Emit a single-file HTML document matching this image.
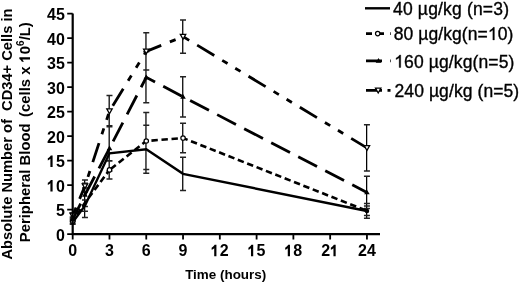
<!DOCTYPE html>
<html><head><meta charset="utf-8"><style>html,body{margin:0;padding:0;background:#fff;}svg{display:block;will-change:transform;}</style></head>
<body><svg width="520" height="284" viewBox="0 0 520 284"><path d="M72.40 220.38V224.30M84.66 200.09V211.27M109.18 145.41V161.09M145.96 125.32V173.34M182.74 157.17V190.49M366.64 203.62V218.32M72.40 218.91V223.81M84.66 187.89V217.59M109.18 160.84V178.97M145.96 112.58V169.42M182.74 123.36V152.76M366.64 206.07V215.58M72.40 216.95V221.85M84.66 183.29V206.51M109.18 125.81V170.89M145.96 51.82V102.78M182.74 76.81V116.99M366.64 176.28V208.62M72.40 213.03V217.93M84.66 180.10V192.06M109.18 95.43V126.79M145.96 32.71V69.95M182.74 19.97V53.29M366.64 124.83V170.89" stroke="#000" stroke-width="1.25" fill="none"/><path d="M69.70 220.38H75.70M69.70 224.30H75.70M81.96 200.09H87.96M81.96 211.27H87.96M106.48 161.09H112.48M143.26 125.32H149.26M143.26 173.34H149.26M180.04 157.17H186.04M180.04 190.49H186.04M363.94 203.62H369.94M363.94 218.32H369.94M69.70 218.91H75.70M69.70 223.81H75.70M81.96 187.89H87.96M81.96 217.59H87.96M106.48 160.84H112.48M106.48 178.97H112.48M143.26 112.58H149.26M143.26 169.42H149.26M180.04 123.36H186.04M180.04 152.76H186.04M363.94 206.07H369.94M363.94 215.58H369.94M69.70 216.95H75.70M69.70 221.85H75.70M81.96 183.29H87.96M81.96 206.51H87.96M106.48 125.81H112.48M106.48 170.89H112.48M143.26 51.82H149.26M143.26 102.78H149.26M180.04 76.81H186.04M180.04 116.99H186.04M363.94 176.28H369.94M363.94 208.62H369.94M69.70 213.03H75.70M69.70 217.93H75.70M81.96 180.10H87.96M81.96 192.06H87.96M106.48 95.43H112.48M106.48 126.79H112.48M143.26 32.71H149.26M143.26 69.95H149.26M180.04 19.97H186.04M180.04 53.29H186.04M363.94 124.83H369.94M363.94 170.89H369.94" stroke="#222" stroke-width="1.5" fill="none"/><polyline points="72.70,222.34 84.96,205.68 109.48,153.25 146.26,149.33 183.04,173.83 366.94,210.97" fill="none" stroke="#000" stroke-width="2.4"/><polyline points="72.70,221.36 84.96,202.74 109.48,169.91" fill="none" stroke="#000" stroke-width="2.6" stroke-dasharray="6.4 3.67" stroke-dashoffset="2.07"/><polyline points="109.48,169.91 146.26,141.00 183.04,138.06 366.94,210.82" fill="none" stroke="#000" stroke-width="2.6" stroke-dasharray="6.4 3.67" stroke-dashoffset="8.45"/><polyline points="72.70,219.40 84.96,194.90 109.48,148.35 146.26,77.30 183.04,96.90 366.94,192.45" fill="none" stroke="#000" stroke-width="2.8" stroke-dasharray="21.2 9.25" stroke-dashoffset="3.46"/><polyline points="72.70,215.48 84.96,186.08" fill="none" stroke="#000" stroke-width="2.8" stroke-dasharray="20 9.3 6.2 9 6.2 9.3" stroke-dashoffset="42.00"/><polyline points="84.96,186.08 109.48,111.11 146.26,51.33 183.04,36.63 366.94,147.86" fill="none" stroke="#000" stroke-width="2.8" stroke-dasharray="20 9.3 6.2 9 6.2 9.3" stroke-dashoffset="34.82"/><circle cx="72.70" cy="221.36" r="2.2" fill="#fff" stroke="#000" stroke-width="1.2"/><circle cx="109.48" cy="169.91" r="2.2" fill="#fff" stroke="#000" stroke-width="1.2"/><circle cx="146.26" cy="141.00" r="2.2" fill="#fff" stroke="#000" stroke-width="1.2"/><circle cx="183.04" cy="138.06" r="2.2" fill="#fff" stroke="#000" stroke-width="1.2"/><path d="M69.90 221.30 L75.50 221.30 L72.70 216.60 Z" fill="#000"/><path d="M82.16 196.80 L87.76 196.80 L84.96 192.10 Z" fill="#000"/><path d="M106.68 150.25 L112.28 150.25 L109.48 145.55 Z" fill="#000"/><path d="M143.46 79.20 L149.06 79.20 L146.26 74.50 Z" fill="#000"/><path d="M180.24 98.80 L185.84 98.80 L183.04 94.10 Z" fill="#000"/><path d="M364.14 194.35 L369.74 194.35 L366.94 189.65 Z" fill="#000"/><path d="M70.00 213.18 L75.40 213.18 L72.70 218.08 Z" fill="#fff" stroke="#000" stroke-width="1.3" stroke-linejoin="miter"/><path d="M82.26 183.78 L87.66 183.78 L84.96 188.68 Z" fill="#fff" stroke="#000" stroke-width="1.3" stroke-linejoin="miter"/><path d="M106.78 108.81 L112.18 108.81 L109.48 113.71 Z" fill="#fff" stroke="#000" stroke-width="1.3" stroke-linejoin="miter"/><path d="M143.56 49.03 L148.96 49.03 L146.26 53.93 Z" fill="#fff" stroke="#000" stroke-width="1.3" stroke-linejoin="miter"/><path d="M180.34 34.33 L185.74 34.33 L183.04 39.23 Z" fill="#fff" stroke="#000" stroke-width="1.3" stroke-linejoin="miter"/><path d="M364.24 145.56 L369.64 145.56 L366.94 150.46 Z" fill="#fff" stroke="#000" stroke-width="1.3" stroke-linejoin="miter"/><circle cx="366.94" cy="210.97" r="2.3" fill="#000"/><path d="M72.70 13.60V234.10H380" fill="none" stroke="#000" stroke-width="2.2"/><path d="M67.20 234.10H72.70M67.20 209.60H72.70M67.20 185.10H72.70M67.20 160.60H72.70M67.20 136.10H72.70M67.20 111.60H72.70M67.20 87.10H72.70M67.20 62.60H72.70M67.20 38.10H72.70M67.20 13.60H72.70M72.70 234.10V239.60M109.48 234.10V239.60M146.26 234.10V239.60M183.04 234.10V239.60M219.82 234.10V239.60M256.60 234.10V239.60M293.38 234.10V239.60M330.16 234.10V239.60M366.94 234.10V239.60" stroke="#000" stroke-width="1.8" fill="none"/><g font-family="&quot;Liberation Sans&quot;, sans-serif" font-weight="bold" font-size="16"><text x="64.9" y="240.50" text-anchor="end">0</text><text x="64.9" y="216.00" text-anchor="end">5</text><text x="64.9" y="191.50" text-anchor="end"> 0</text><text x="64.9" y="167.00" text-anchor="end"> 5</text><text x="64.9" y="142.50" text-anchor="end">20</text><text x="64.9" y="118.00" text-anchor="end">25</text><text x="64.9" y="93.50" text-anchor="end">30</text><text x="64.9" y="69.00" text-anchor="end">35</text><text x="64.9" y="44.50" text-anchor="end">40</text><text x="64.9" y="20.00" text-anchor="end">45</text><text x="72.70" y="256.3" text-anchor="middle">0</text><text x="109.48" y="256.3" text-anchor="middle">3</text><text x="146.26" y="256.3" text-anchor="middle">6</text><text x="183.04" y="256.3" text-anchor="middle">9</text><text x="219.82" y="256.3" text-anchor="middle"> 2</text><text x="256.60" y="256.3" text-anchor="middle"> 5</text><text x="293.38" y="256.3" text-anchor="middle"> 8</text><text x="330.16" y="256.3" text-anchor="middle">2 </text><text x="366.94" y="256.3" text-anchor="middle">24</text></g><g fill="#000"><path d="M0.344 0L0.344 0.716L0.232 0.716C0.2 0.655 0.13 0.585 0.044 0.54L0.044 0.41C0.1 0.435 0.16 0.47 0.206 0.51L0.206 0Z" transform="translate(47.10,191.50) scale(16,-16)"/><path d="M0.344 0L0.344 0.716L0.232 0.716C0.2 0.655 0.13 0.585 0.044 0.54L0.044 0.41C0.1 0.435 0.16 0.47 0.206 0.51L0.206 0Z" transform="translate(47.10,167.00) scale(16,-16)"/><path d="M0.344 0L0.344 0.716L0.232 0.716C0.2 0.655 0.13 0.585 0.044 0.54L0.044 0.41C0.1 0.435 0.16 0.47 0.206 0.51L0.206 0Z" transform="translate(210.92,256.30) scale(16,-16)"/><path d="M0.344 0L0.344 0.716L0.232 0.716C0.2 0.655 0.13 0.585 0.044 0.54L0.044 0.41C0.1 0.435 0.16 0.47 0.206 0.51L0.206 0Z" transform="translate(247.70,256.30) scale(16,-16)"/><path d="M0.344 0L0.344 0.716L0.232 0.716C0.2 0.655 0.13 0.585 0.044 0.54L0.044 0.41C0.1 0.435 0.16 0.47 0.206 0.51L0.206 0Z" transform="translate(284.48,256.30) scale(16,-16)"/><path d="M0.344 0L0.344 0.716L0.232 0.716C0.2 0.655 0.13 0.585 0.044 0.54L0.044 0.41C0.1 0.435 0.16 0.47 0.206 0.51L0.206 0Z" transform="translate(330.16,256.30) scale(16,-16)"/></g><text x="225.7" y="279.2" text-anchor="middle" font-family="&quot;Liberation Sans&quot;, sans-serif" font-weight="bold" font-size="13.45">Time (hours)</text><g font-family="&quot;Liberation Sans&quot;, sans-serif" font-weight="bold" font-size="14.85" text-anchor="middle"><text transform="translate(11.6,134.0) rotate(-90)" font-size="14.7" xml:space="preserve">Absolute Number of  CD34+ Cells in</text><text id="yl2" transform="translate(30,132.2) rotate(-90)" xml:space="preserve">Peripheral Blood <tspan dx="2.4">(cells x  0</tspan><tspan dy="-5.6" font-size="10">6</tspan><tspan dy="5.6">/L)</tspan></text></g><g transform="translate(30,132.2) rotate(-90)"><path d="M0.344 0L0.344 0.716L0.232 0.716C0.2 0.655 0.13 0.585 0.044 0.54L0.044 0.41C0.1 0.435 0.16 0.47 0.206 0.51L0.206 0Z" transform="translate(69.76,0.00) scale(14.85,-14.85)"/></g><line x1="365" y1="8.3" x2="390" y2="8.3" stroke="#000" stroke-width="2.4"/><text id="lg40" x="393" y="14.70" font-family="&quot;Liberation Sans&quot;, sans-serif" font-size="17.5" stroke="#000" stroke-width="0.35" xml:space="preserve" textLength="116.0" lengthAdjust="spacing">40 µg/kg (n=3)</text><line x1="366" y1="33.6" x2="390.7" y2="33.6" stroke="#000" stroke-width="2.6" stroke-dasharray="6 6"/><circle cx="377.70" cy="33.60" r="2.2" fill="#fff" stroke="#000" stroke-width="1.2"/><text id="lg80" x="393.8" y="39.90" font-family="&quot;Liberation Sans&quot;, sans-serif" font-size="17.5" stroke="#000" stroke-width="0.35" xml:space="preserve" textLength="119.5" lengthAdjust="spacing">80 µg/kg(n= 0)</text><path d="M0.3726 0L0.3726 0.716L0.3062 0.716C0.28 0.66 0.22 0.595 0.108 0.539L0.108 0.454C0.17 0.48 0.24 0.52 0.2847 0.56L0.2847 0Z" transform="translate(487.87,39.90) scale(17.5,-17.5)" stroke="#000" stroke-width="0.02"/><line x1="366" y1="60.9" x2="390.7" y2="60.9" stroke="#000" stroke-width="2.8" stroke-dasharray="16 8"/><path d="M375.70 62.80 L381.30 62.80 L378.50 58.10 Z" fill="#000"/><text id="lg160" x="394.2" y="67.50" font-family="&quot;Liberation Sans&quot;, sans-serif" font-size="17.5" stroke="#000" stroke-width="0.35" xml:space="preserve" textLength="120.2" lengthAdjust="spacing"> 60 µg/kg(n=5)</text><path d="M0.3726 0L0.3726 0.716L0.3062 0.716C0.28 0.66 0.22 0.595 0.108 0.539L0.108 0.454C0.17 0.48 0.24 0.52 0.2847 0.56L0.2847 0Z" transform="translate(394.20,67.50) scale(17.5,-17.5)" stroke="#000" stroke-width="0.02"/><line x1="366" y1="90.4" x2="391" y2="90.4" stroke="#000" stroke-width="2.8" stroke-dasharray="16 5.5 3 20"/><path d="M375.50 88.10 L380.90 88.10 L378.20 93.00 Z" fill="#fff" stroke="#000" stroke-width="1.3" stroke-linejoin="miter"/><text id="lg240" x="394.5" y="97.20" font-family="&quot;Liberation Sans&quot;, sans-serif" font-size="17.5" stroke="#000" stroke-width="0.35" xml:space="preserve" textLength="124.7" lengthAdjust="spacing">240 µg/kg (n=5)</text></svg></body></html>
